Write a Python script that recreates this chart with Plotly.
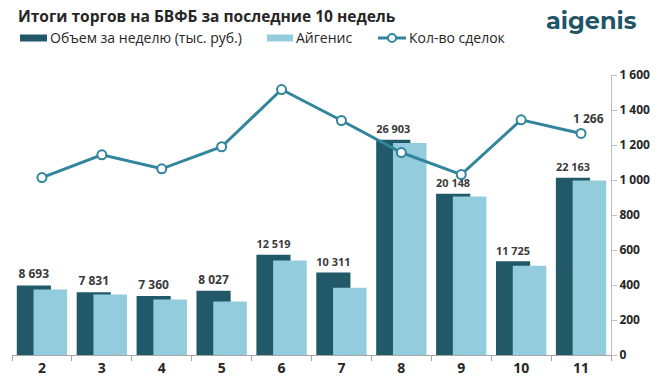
import plotly.graph_objects as go

weeks = ["2", "3", "4", "5", "6", "7", "8", "9", "10", "11"]
volume = [8693, 7831, 7360, 8027, 12519, 10311, 26903, 20148, 11725, 22163]
aigenis = [8190, 7560, 6940, 6680, 11800, 8400, 26500, 19800, 11150, 21800]
deals = [1014, 1144, 1064, 1190, 1517, 1340, 1157, 1031, 1344, 1266]

DARK = "#215968"
LIGHT = "#93CDDD"
LINE = "#31859C"
TXT = "#3a3a3a"
FONT = "Open Sans"

W, H = 662, 387
L, R, T, B = 12, 51, 75, 32
PW = W - L - R
PH = H - T - B


def px(x):
    return (x - L) / PW


def py(y):
    return (H - B - y) / PH


fig = go.Figure()
fig.add_trace(go.Bar(
    x=weeks, y=volume, name="Объем за неделю (тыс. руб.)",
    marker=dict(color=DARK, line=dict(width=0)),
    width=0.57, offset=-0.42,
    texttemplate="%{y:,}", textposition="outside",
    textfont=dict(family=FONT, size=12, color=TXT, weight="bold"),
    cliponaxis=False, yaxis="y"))
fig.add_trace(go.Bar(
    x=weeks, y=aigenis, name="Айгенис",
    marker=dict(color=LIGHT, line=dict(width=0)),
    width=0.56, offset=-0.14, yaxis="y"))
fig.add_trace(go.Scatter(
    x=weeks, y=deals, name="Кол-во сделок", mode="lines+markers",
    line=dict(color=LINE, width=3),
    marker=dict(symbol="circle", size=9, color="white", line=dict(color=LINE, width=2)),
    cliponaxis=False, yaxis="y2"))

fig.add_annotation(x=len(weeks) - 1, y=deals[-1], xref="x", yref="y2",
                   text="1 266", showarrow=False, yshift=15, xshift=7,
                   font=dict(family=FONT, size=12, color=TXT, weight="bold"))

# title and logo
fig.add_annotation(x=px(16), y=py(16), xref="paper", yref="paper", xanchor="left", yanchor="middle",
                   text="<b>Итоги торгов на БВФБ за последние 10 недель</b>", showarrow=False,
                   font=dict(family=FONT, size=15.5, color="#262626"))
fig.add_annotation(x=px(639), y=py(20), xref="paper", yref="paper", xanchor="right", yanchor="middle",
                   text="<b>aigenis</b>", showarrow=False,
                   font=dict(family="Montserrat, Open Sans", size=24, color="#1F5566"))

# manual legend
shapes = []
ly = 38
shapes.append(dict(type="rect", xref="paper", yref="paper", x0=px(20), x1=px(47), y0=py(ly - 3.5), y1=py(ly + 3.5),
                   fillcolor=DARK, line=dict(width=0)))
shapes.append(dict(type="rect", xref="paper", yref="paper", x0=px(267), x1=px(293), y0=py(ly - 3.5), y1=py(ly + 3.5),
                   fillcolor=LIGHT, line=dict(width=0)))
shapes.append(dict(type="line", xref="paper", yref="paper", x0=px(378), x1=px(406), y0=py(ly), y1=py(ly),
                   line=dict(color=LINE, width=3)))
shapes.append(dict(type="circle", xref="paper", yref="paper", x0=px(388), x1=px(396), y0=py(ly - 4), y1=py(ly + 4),
                   fillcolor="white", line=dict(color=LINE, width=2)))
for xx, t in [(48, "Объем за неделю (тыс. руб.)"), (294, "Айгенис"), (407, "Кол-во сделок")]:
    fig.add_annotation(x=px(xx), y=py(ly - 1), xref="paper", yref="paper", xanchor="left", yanchor="middle",
                       text=t, showarrow=False, font=dict(family=FONT, size=14, color="#262626"))

fig.update_layout(
    width=W, height=H, margin=dict(l=L, r=R, t=T, b=B, autoexpand=False),
    paper_bgcolor="white", plot_bgcolor="white",
    barmode="overlay", showlegend=False, separators=", ",
    shapes=shapes,
    xaxis=dict(type="category", range=[-0.5, len(weeks) - 0.5], tickson="boundaries", ticks="outside",
               ticklen=5, tickcolor="#A6A6A6", automargin=False,
               showline=True, linecolor="#A6A6A6", linewidth=1, showgrid=False,
               tickfont=dict(family=FONT, size=14, color="#262626", weight="bold")),
    yaxis=dict(range=[0, 35000], visible=False, showgrid=False, automargin=False),
    yaxis2=dict(range=[0, 1600], dtick=200, overlaying="y", side="right", tickformat=",",
                showline=True, linecolor="#BFBFBF", linewidth=1, ticks="outside", ticklen=5,
                tickcolor="#BFBFBF", showgrid=False, zeroline=False, automargin=False,
                tickfont=dict(family=FONT, size=12, color="#262626", weight="bold")),
)

fig.write_html("out.html", config={"displayModeBar": False},
               post_script="document.body.style.margin='0';document.body.style.overflow='hidden';")
